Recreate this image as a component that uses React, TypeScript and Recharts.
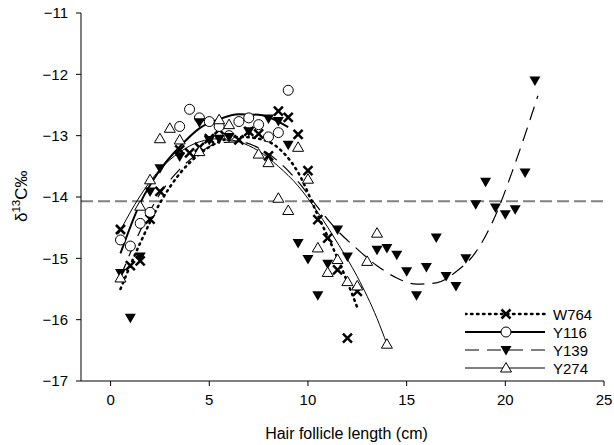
import React from 'react'
import { ComposedChart, Scatter, Line, XAxis, YAxis, ReferenceLine, Legend } from 'recharts'

// measured points, x = hair follicle length (cm), y = d13C
const w764Points = [
  { x: 0.5, y: -14.53 }, { x: 1.0, y: -15.12 }, { x: 1.5, y: -15.04 }, { x: 2.0, y: -14.36 },
  { x: 2.5, y: -13.91 }, { x: 3.5, y: -13.23 }, { x: 4.0, y: -13.28 }, { x: 4.5, y: -13.19 },
  { x: 5.0, y: -13.05 }, { x: 5.5, y: -12.9 }, { x: 6.5, y: -13.07 }, { x: 7.0, y: -12.93 },
  { x: 7.5, y: -12.97 }, { x: 8.0, y: -13.33 }, { x: 8.5, y: -12.6 }, { x: 9.0, y: -12.7 },
  { x: 9.5, y: -12.98 }, { x: 10.0, y: -13.57 }, { x: 10.5, y: -14.37 }, { x: 11.0, y: -14.67 },
  { x: 11.5, y: -15.19 }, { x: 12.0, y: -16.3 }, { x: 12.5, y: -15.54 },
]

const y116Points = [
  { x: 0.5, y: -14.7 }, { x: 1.0, y: -14.8 }, { x: 1.5, y: -14.43 }, { x: 2.0, y: -14.25 },
  { x: 3.5, y: -12.85 }, { x: 4.0, y: -12.57 }, { x: 4.5, y: -12.71 }, { x: 5.0, y: -12.77 },
  { x: 5.5, y: -12.85 }, { x: 6.0, y: -13.0 }, { x: 6.5, y: -12.77 }, { x: 7.0, y: -12.71 },
  { x: 7.5, y: -12.82 }, { x: 8.0, y: -13.02 }, { x: 8.5, y: -12.95 }, { x: 9.0, y: -12.26 },
]

const y139Points = [
  { x: 0.5, y: -15.24 }, { x: 1.0, y: -15.97 }, { x: 1.5, y: -14.97 }, { x: 2.0, y: -13.91 },
  { x: 2.5, y: -13.53 }, { x: 3.5, y: -13.34 }, { x: 4.5, y: -12.78 }, { x: 5.0, y: -13.07 },
  { x: 5.5, y: -13.05 }, { x: 6.0, y: -13.02 }, { x: 7.0, y: -12.93 }, { x: 8.0, y: -12.72 },
  { x: 8.5, y: -12.76 }, { x: 9.0, y: -13.15 }, { x: 9.5, y: -14.75 }, { x: 10.0, y: -15.01 },
  { x: 10.5, y: -15.6 }, { x: 11.0, y: -15.09 }, { x: 11.5, y: -14.53 }, { x: 12.0, y: -14.97 },
  { x: 13.5, y: -14.86 }, { x: 14.0, y: -14.83 }, { x: 14.5, y: -14.94 }, { x: 15.0, y: -15.21 },
  { x: 15.5, y: -15.6 }, { x: 16.0, y: -15.14 }, { x: 16.5, y: -14.66 }, { x: 17.0, y: -15.29 },
  { x: 17.5, y: -15.45 }, { x: 18.0, y: -15.0 }, { x: 18.5, y: -14.12 }, { x: 19.0, y: -13.75 },
  { x: 19.5, y: -14.17 }, { x: 20.0, y: -14.28 }, { x: 20.5, y: -14.2 }, { x: 21.0, y: -13.6 },
  { x: 21.5, y: -12.1 },
]

const y274Points = [
  { x: 0.5, y: -15.32 }, { x: 1.5, y: -14.15 }, { x: 2.0, y: -13.72 }, { x: 2.5, y: -13.05 },
  { x: 3.0, y: -12.88 }, { x: 3.5, y: -13.07 }, { x: 4.5, y: -13.26 }, { x: 5.5, y: -12.74 },
  { x: 6.0, y: -12.82 }, { x: 7.5, y: -13.3 }, { x: 8.0, y: -13.44 }, { x: 8.5, y: -14.02 },
  { x: 9.0, y: -14.22 }, { x: 9.5, y: -13.19 }, { x: 10.0, y: -13.71 }, { x: 10.5, y: -14.83 },
  { x: 11.0, y: -15.23 }, { x: 11.5, y: -15.02 }, { x: 12.0, y: -15.38 }, { x: 12.5, y: -15.45 },
  { x: 13.0, y: -15.05 }, { x: 13.5, y: -14.59 }, { x: 14.0, y: -16.4 },
]

// fitted curves
const w764Fit = [
  { x: 0.5, y: -15.5 }, { x: 1.5, y: -14.75 }, { x: 2.5, y: -14.1 }, { x: 3.5, y: -13.62 },
  { x: 4.5, y: -13.3 }, { x: 5.5, y: -13.1 }, { x: 6.5, y: -13.02 }, { x: 7.5, y: -13.05 },
  { x: 8.5, y: -13.2 }, { x: 9.5, y: -13.6 }, { x: 10.5, y: -14.3 }, { x: 11.5, y: -15.0 },
  { x: 12.5, y: -15.8 },
]

const y116Fit = [
  { x: 0.5, y: -14.92 }, { x: 1.5, y: -14.1 }, { x: 2.5, y: -13.56 }, { x: 3.5, y: -13.18 },
  { x: 4.5, y: -12.88 }, { x: 5.5, y: -12.73 }, { x: 6.5, y: -12.65 }, { x: 7.5, y: -12.66 },
  { x: 8.5, y: -12.77 }, { x: 9.0, y: -12.86 },
]

const y139Fit = [
  { x: 0.5, y: -15.3 }, { x: 1.5, y: -14.55 }, { x: 2.5, y: -13.95 }, { x: 3.5, y: -13.55 },
  { x: 4.5, y: -13.28 }, { x: 5.5, y: -13.12 }, { x: 6.5, y: -13.1 }, { x: 7.5, y: -13.2 },
  { x: 8.5, y: -13.42 }, { x: 9.5, y: -13.75 }, { x: 10.5, y: -14.17 }, { x: 11.5, y: -14.55 },
  { x: 12.5, y: -14.85 }, { x: 13.5, y: -15.12 }, { x: 14.5, y: -15.32 }, { x: 15.5, y: -15.42 },
  { x: 16.5, y: -15.4 }, { x: 17.5, y: -15.22 }, { x: 18.5, y: -14.9 }, { x: 19.5, y: -14.3 },
  { x: 20.5, y: -13.45 }, { x: 21.65, y: -12.35 },
]

const y274Fit = [
  { x: 0.4, y: -14.6 }, { x: 1.5, y: -13.98 }, { x: 2.5, y: -13.55 }, { x: 3.5, y: -13.27 },
  { x: 4.5, y: -13.1 }, { x: 5.5, y: -13.05 }, { x: 6.5, y: -13.1 }, { x: 7.5, y: -13.25 },
  { x: 8.5, y: -13.5 }, { x: 9.5, y: -13.82 }, { x: 10.5, y: -14.25 }, { x: 11.5, y: -14.75 },
  { x: 12.5, y: -15.3 }, { x: 13.5, y: -15.98 }, { x: 14.0, y: -16.4 },
]

const xTicks = [0, 5, 10, 15, 20, 25]
const yTicks = [-17, -16, -15, -14, -13, -12, -11]
const baseline = -14.07

const FONT = 'Arial, "Liberation Sans", sans-serif'

const Cross = ({ cx, cy }: any) => (
  <g stroke="#000" strokeWidth={2.5}>
    <line x1={cx - 4.5} y1={cy - 4.5} x2={cx + 4.5} y2={cy + 4.5} />
    <line x1={cx - 4.5} y1={cy + 4.5} x2={cx + 4.5} y2={cy - 4.5} />
  </g>
)

const Circle = ({ cx, cy }: any) => (
  <circle cx={cx} cy={cy} r={5} fill="#fff" stroke="#000" strokeWidth={1} />
)

const TriDown = ({ cx, cy }: any) => (
  <path d={`M${cx - 5.5},${cy - 4} L${cx + 5.5},${cy - 4} L${cx},${cy + 5.5} Z`} fill="#000" />
)

const TriUp = ({ cx, cy }: any) => (
  <path d={`M${cx - 5.5},${cy + 4} L${cx + 5.5},${cy + 4} L${cx},${cy - 5.5} Z`} fill="#fff" stroke="#000" strokeWidth={1} />
)

const series = [
  { name: 'W764', stroke: 2.5, dash: '1.5 4.5', cap: 'round', Marker: Cross },
  { name: 'Y116', stroke: 2, dash: undefined, cap: 'butt', Marker: Circle },
  { name: 'Y139', stroke: 1.2, dash: '14 8', cap: 'butt', Marker: TriDown },
  { name: 'Y274', stroke: 1, dash: undefined, cap: 'butt', Marker: TriUp },
]

const minus = (v: number) => String(v).replace('-', '\u2212')

function LegendBox() {
  return (
    <svg width={140} height={76} style={{ display: 'block' }}>
      {series.map((s, i) => {
        const y = 9 + i * 18
        const M = s.Marker
        return (
          <g key={s.name}>
            <line x1={0} y1={y} x2={80} y2={y} stroke="#000" strokeWidth={s.stroke}
              strokeDasharray={s.dash} strokeLinecap={s.cap as any} />
            <M cx={41} cy={y} />
            <text x={88} y={y + 5.5} fontSize={15} fontFamily={FONT} fill="#000">{s.name}</text>
          </g>
        )
      })}
    </svg>
  )
}

function YLabel() {
  // rotated; text runs upward starting from y
  const x = 27
  const y = 222
  return (
    <text x={x} y={y} transform={`rotate(-90, ${x}, ${y})`} textAnchor="start"
      fontFamily={FONT} fontSize={17} fill="#000">
      δ<tspan fontSize={11.5} dy={-7}>13</tspan><tspan dy={7}>C‰</tspan>
    </text>
  )
}

export default function App() {
  const fits = [w764Fit, y116Fit, y139Fit, y274Fit]
  const points = [w764Points, y116Points, y139Points, y274Points]
  return (
    <div style={{ position: 'absolute', left: 0, top: 0, background: '#fff' }}>
      <ComposedChart width={614} height={445} margin={{ top: 13, right: 10, bottom: 34, left: 0 }}>
        <XAxis xAxisId="b" type="number" dataKey="x" domain={[-1.5, 25]} ticks={xTicks}
          allowDataOverflow tick={{ fontSize: 15, fontFamily: FONT, fill: '#000' }}
          tickSize={5} tickMargin={8} stroke="#000" height={30}
          label={{ value: 'Hair follicle length (cm)', position: 'insideBottom', offset: -28,
            fontSize: 16, fontFamily: FONT, fill: '#000', dx: 4 }} />
        <XAxis xAxisId="t" orientation="top" type="number" dataKey="x" domain={[-1.5, 25]}
          tick={false} tickLine={false} stroke="#000" height={0} />
        <YAxis yAxisId="l" type="number" dataKey="y" domain={[-17, -11]} ticks={yTicks}
          tickFormatter={minus} tick={{ fontSize: 15, fontFamily: FONT, fill: '#000' }}
          tickSize={5} tickMargin={8} stroke="#000" width={81}
          label={{ content: <YLabel /> } as any} />
        <YAxis yAxisId="r" orientation="right" type="number" dataKey="y" domain={[-17, -11]}
          tick={false} tickLine={false} stroke="#000" width={0} />
        <ReferenceLine xAxisId="b" yAxisId="l" y={baseline} stroke="#808080" strokeWidth={2}
          strokeDasharray="12 5" />
        {series.map((s, i) => (
          <Line key={'f' + s.name} xAxisId="b" yAxisId="l" data={fits[i]} dataKey="y" type="monotone"
            stroke="#000" strokeWidth={s.stroke} strokeDasharray={s.dash} strokeLinecap={s.cap as any}
            dot={false} activeDot={false} isAnimationActive={false} />
        ))}
        {series.map((s, i) => (
          <Scatter key={'p' + s.name} xAxisId="b" yAxisId="l" data={points[i]} dataKey="y"
            shape={(p: any) => <s.Marker cx={p.cx} cy={p.cy} />} isAnimationActive={false} />
        ))}
        <Legend layout="horizontal" verticalAlign="middle" align="center" content={() => <LegendBox />}
          wrapperStyle={{ position: 'absolute', left: 465, top: 305, width: 140 }} />
      </ComposedChart>
    </div>
  )
}
